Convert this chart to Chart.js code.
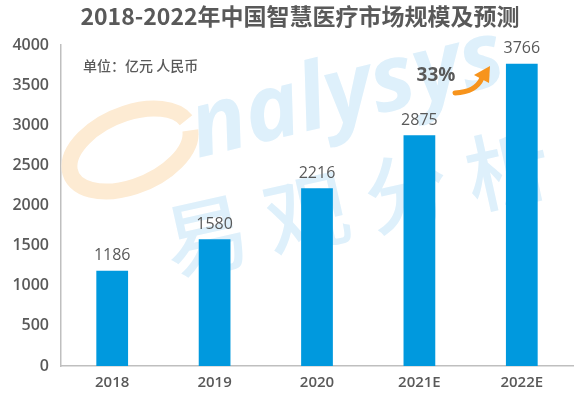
<!DOCTYPE html>
<html>
<head>
<meta charset="utf-8">
<script src="https://cdn.jsdelivr.net/npm/chart.js@4.4.0/dist/chart.umd.min.js"></script>
<style>
  html, body { margin: 0; padding: 0; background: #fff; }
</style>
</head>
<body>
<canvas id="marketChart" width="579" height="399"></canvas>
<script>
const years = ["2018", "2019", "2020", "2021E", "2022E"];
const marketSize = [1186, 1580, 2216, 2875, 3766];
const yTicks = [0, 500, 1000, 1500, 2000, 2500, 3000, 3500, 4000];

const chartTitle = "2018-2022年中国智慧医疗市场规模及预测";
const unitNote = "单位：亿元 人民币";
const growthNote = "33%";

const GRAY = "#595959";
const BLUE = "#0099de";
const FONT = "'Noto Sans CJK SC', 'Noto Sans', sans-serif";
const NUM_FONT = "'Open Sans', 'Noto Sans', sans-serif";

// faint "analysys 易观分析" watermark behind the bars
const watermark = {
  id: "watermark",
  beforeDatasetsDraw(chart) {
    const ctx = chart.ctx;
    ctx.save();
    // orange swoosh of the "a"
    ctx.strokeStyle = "#fdebd3";
    ctx.lineWidth = 16;
    ctx.beginPath();
    ctx.ellipse(130, 150, 64, 36, -0.4, 0.15, Math.PI * 1.95);
    ctx.stroke();

    ctx.fillStyle = "#def0fb";
    ctx.translate(198, 158);
    ctx.rotate(-0.24);
    ctx.font = "italic bold 92px " + NUM_FONT;
    ctx.fillText("nalysys", 0, 0);
    ctx.restore();

    ctx.save();
    ctx.fillStyle = "#def0fb";
    ctx.translate(172, 276);
    ctx.rotate(-0.22);
    ctx.font = "500 84px " + FONT;
    ctx.fillText("易 观 分 析", 0, 0);
    ctx.restore();
  }
};

const annotations = {
  id: "annotations",
  afterDraw(chart) {
    const ctx = chart.ctx;
    ctx.save();

    // title
    ctx.fillStyle = GRAY;
    ctx.textAlign = "center";
    ctx.textBaseline = "middle";
    ctx.font = "bold 23px " + FONT;
    ctx.fillText(chartTitle, 300, 16);

    // unit
    ctx.textAlign = "left";
    ctx.font = "500 14px " + FONT;
    ctx.fillText(unitNote, 83, 66);

    // value labels
    ctx.textAlign = "center";
    ctx.textBaseline = "bottom";
    ctx.font = "16px " + NUM_FONT;
    chart.getDatasetMeta(0).data.forEach((bar, i) => {
      ctx.fillText(String(marketSize[i]), bar.x, bar.y - 7);
    });

    // growth note + arrow
    ctx.textBaseline = "middle";
    ctx.font = "bold 19px " + NUM_FONT;
    ctx.fillText(growthNote, 436, 76);

    ctx.strokeStyle = "#f7941d";
    ctx.fillStyle = "#f7941d";
    ctx.lineWidth = 5;
    ctx.lineCap = "round";
    ctx.beginPath();
    ctx.moveTo(455, 93);
    ctx.quadraticCurveTo(476, 92, 482, 78);
    ctx.stroke();
    ctx.beginPath();
    ctx.moveTo(490, 66);
    ctx.lineTo(474, 75);
    ctx.lineTo(489, 83);
    ctx.closePath();
    ctx.fill();

    ctx.restore();
  }
};

new Chart(document.getElementById("marketChart"), {
  type: "bar",
  data: {
    labels: years,
    datasets: [{
      data: marketSize,
      backgroundColor: BLUE,
      borderWidth: 0,
      barPercentage: 0.31,
      categoryPercentage: 1
    }]
  },
  options: {
    responsive: false,
    animation: false,
    devicePixelRatio: 1,
    layout: { padding: { top: 45, right: 6, left: 0, bottom: 0 } },
    plugins: {
      legend: { display: false },
      tooltip: { enabled: false }
    },
    scales: {
      x: {
        grid: { display: false, drawTicks: false },
        border: { color: "#bfbfbf", width: 1.5 },
        ticks: { color: GRAY, font: { family: NUM_FONT, size: 15, weight: "600" }, padding: 8 },
        afterFit: s => { s.height = 33; }
      },
      y: {
        min: 0,
        max: 4000,
        grid: { display: false, drawTicks: false },
        border: { color: "#bfbfbf", width: 1.5 },
        afterBuildTicks: s => { s.ticks = yTicks.map(v => ({ value: v })); },
        ticks: {
          color: GRAY,
          font: { family: NUM_FONT, size: 16, weight: "600" },
          padding: 12,
          callback: v => String(v)
        },
        afterFit: s => { s.width = 61; }
      }
    }
  },
  plugins: [watermark, annotations]
});
</script>
</body>
</html>
